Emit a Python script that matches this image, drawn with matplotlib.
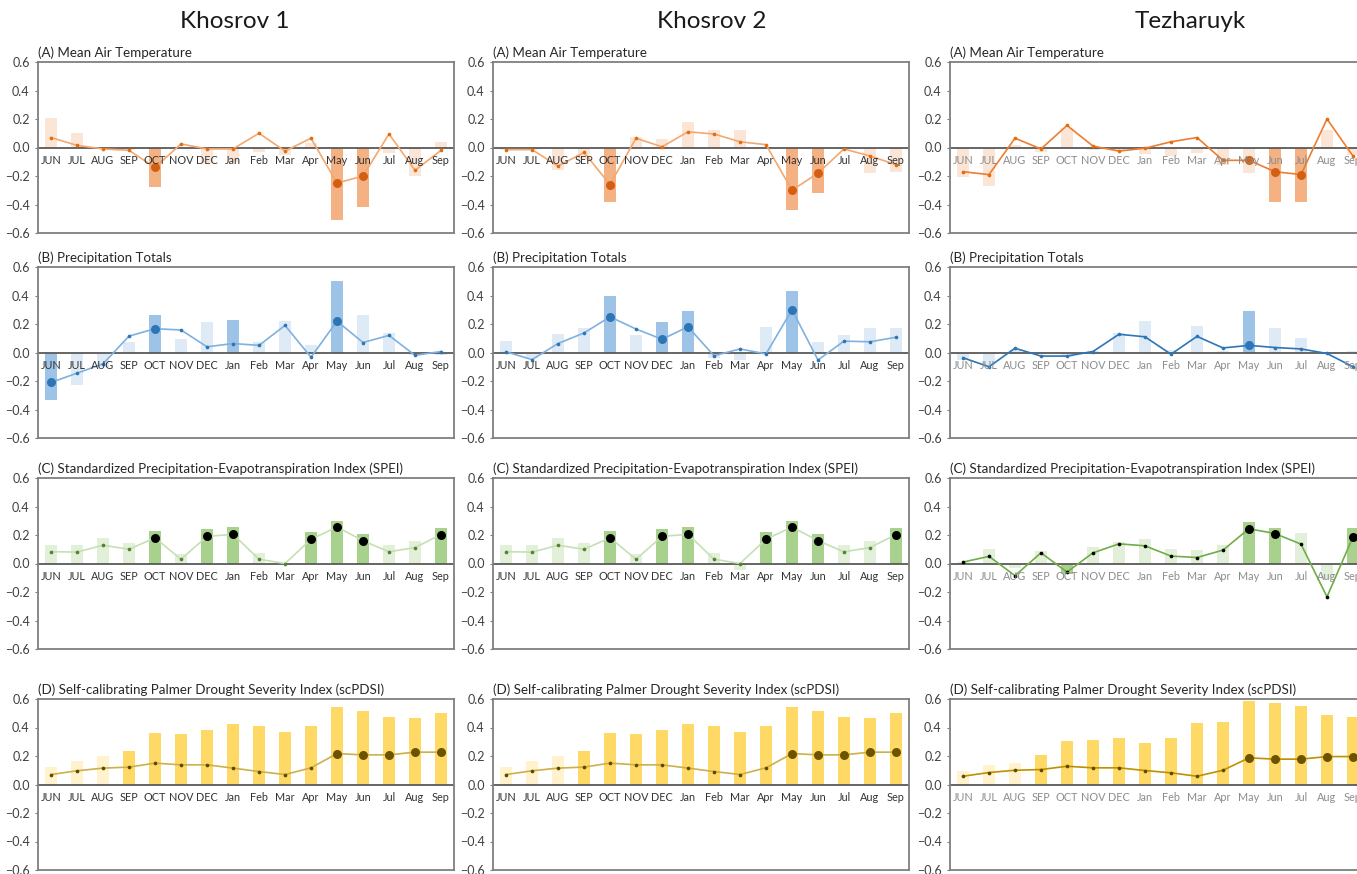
import matplotlib.pyplot as plt
import numpy as np

plt.rcParams['font.family'] = ['Lato', 'DejaVu Sans']

months = ['JUN', 'JUL', 'AUG', 'SEP', 'OCT', 'NOV', 'DEC', 'Jan', 'Feb',
          'Mar', 'Apr', 'May', 'Jun', 'Jul', 'Aug', 'Sep']
sites = ['Khosrov 1', 'Khosrov 2', 'Tezharuyk']
panel_titles = ['(A) Mean Air Temperature',
                '(B) Precipitation Totals',
                '(C) Standardized Precipitation-Evapotranspiration Index (SPEI)',
                '(D) Self-calibrating Palmer Drought Severity Index (scPDSI)']

# (A) mean air temperature: bar = one value per month, line = second value
temp_bar_k1 = [0.21, 0.10, -0.01, -0.02, -0.28, 0.00, -0.11, -0.10, -0.03, -0.05, 0.035, -0.51, -0.42, -0.04, -0.20, 0.04]
temp_line_k1 = [0.07, 0.015, -0.01, -0.02, -0.14, 0.025, -0.01, -0.01, 0.10, -0.025, 0.065, -0.25, -0.20, 0.095, -0.16, -0.02]
temp_bar_k2 = [-0.02, -0.02, -0.16, -0.09, -0.38, 0.075, 0.06, 0.18, 0.125, 0.12, 0.0, -0.44, -0.32, -0.01, -0.18, -0.17]
temp_line_k2 = [-0.015, -0.015, -0.13, -0.035, -0.26, 0.065, 0.005, 0.11, 0.095, 0.04, 0.02, -0.30, -0.18, -0.01, -0.06, -0.12]
temp_bar_tz = [-0.21, -0.27, 0.02, -0.035, 0.135, -0.02, -0.02, -0.045, -0.06, -0.04, -0.12, -0.18, -0.38, -0.38, 0.12, -0.05]
temp_line_tz = [-0.17, -0.19, 0.065, -0.01, 0.155, 0.01, -0.025, -0.005, 0.04, 0.07, -0.09, -0.09, -0.17, -0.19, 0.20, -0.06]

# (B) precipitation totals
prec_bar_k1 = [-0.33, -0.23, -0.10, 0.075, 0.26, 0.095, 0.215, 0.23, 0.075, 0.22, 0.05, 0.50, 0.26, 0.135, -0.02, -0.02]
prec_line_k1 = [-0.21, -0.145, -0.08, 0.115, 0.167, 0.158, 0.04, 0.063, 0.05, 0.19, -0.033, 0.22, 0.07, 0.12, -0.02, 0.007]
prec_bar_k2 = [0.08, -0.04, 0.13, 0.17, 0.40, 0.12, 0.215, 0.29, -0.04, -0.05, 0.18, 0.43, 0.077, 0.12, 0.175, 0.17]
prec_line_k2 = [0.005, -0.05, 0.063, 0.137, 0.25, 0.165, 0.093, 0.18, -0.023, 0.025, -0.01, 0.30, -0.053, 0.08, 0.075, 0.107]
prec_bar_tz = [-0.05, -0.085, 0.02, -0.01, -0.03, 0.01, 0.135, 0.22, 0.02, 0.185, 0.01, 0.29, 0.175, 0.10, 0.0, 0.01]
prec_line_tz = [-0.037, -0.10, 0.03, -0.025, -0.025, 0.007, 0.128, 0.11, -0.012, 0.113, 0.032, 0.05, 0.035, 0.025, -0.007, -0.10]

# (C) SPEI
spei_bar_k1 = [0.13, 0.128, 0.177, 0.145, 0.228, 0.07, 0.24, 0.256, 0.077, -0.01, 0.22, 0.30, 0.207, 0.133, 0.16, 0.252]
spei_line_k1 = [0.083, 0.08, 0.128, 0.10, 0.18, 0.03, 0.19, 0.205, 0.03, 0.0, 0.17, 0.256, 0.16, 0.082, 0.112, 0.203]
spei_bar_k2 = [0.13, 0.128, 0.177, 0.145, 0.228, 0.07, 0.24, 0.256, 0.077, -0.045, 0.22, 0.30, 0.207, 0.133, 0.16, 0.252]
spei_line_k2 = [0.083, 0.08, 0.128, 0.10, 0.18, 0.03, 0.19, 0.205, 0.03, 0.0, 0.17, 0.256, 0.16, 0.082, 0.112, 0.203]
spei_bar_tz = [0.01, 0.10, -0.03, 0.087, -0.077, 0.117, 0.15, 0.173, 0.103, 0.094, 0.127, 0.293, 0.246, 0.215, -0.11, 0.25]
spei_line_tz = [0.01, 0.05, -0.085, 0.075, -0.06, 0.075, 0.138, 0.124, 0.052, 0.042, 0.094, 0.244, 0.21, 0.136, -0.234, 0.187]

# (D) scPDSI
pdsi_bar_k1 = [0.12, 0.163, 0.203, 0.234, 0.36, 0.357, 0.383, 0.428, 0.41, 0.37, 0.413, 0.547, 0.516, 0.474, 0.465, 0.50]
pdsi_line_k1 = [0.07, 0.096, 0.115, 0.122, 0.15, 0.138, 0.138, 0.115, 0.091, 0.07, 0.117, 0.217, 0.208, 0.208, 0.227, 0.227]
pdsi_bar_k2 = list(pdsi_bar_k1)
pdsi_line_k2 = list(pdsi_line_k1)
pdsi_bar_tz = [0.093, 0.14, 0.152, 0.208, 0.306, 0.315, 0.327, 0.29, 0.327, 0.43, 0.44, 0.584, 0.57, 0.549, 0.486, 0.477]
pdsi_line_tz = [0.058, 0.084, 0.10, 0.105, 0.128, 0.117, 0.117, 0.098, 0.082, 0.058, 0.10, 0.187, 0.178, 0.178, 0.196, 0.196]

# months with a strong bar / a large marker
temp_dark = [[4, 11, 12], [4, 11, 12], [12, 13]]
temp_big = [[4, 11, 12], [4, 11, 12], [11, 12, 13]]
prec_dark = [[0, 4, 7, 11], [4, 6, 7, 11], [11]]
prec_big = [[0, 4, 11], [4, 6, 7, 11], [11]]
spei_dark = [[4, 6, 7, 10, 11, 12, 15], [4, 6, 7, 10, 11, 12, 15], [4, 11, 12, 15]]
spei_big = [[4, 6, 7, 10, 11, 12, 15], [4, 6, 7, 10, 11, 12, 15], [11, 12, 15]]
pdsi_dark = [list(range(3, 16))] * 3
pdsi_big = [list(range(11, 16))] * 3

rows = [
    ([temp_bar_k1, temp_bar_k2, temp_bar_tz], [temp_line_k1, temp_line_k2, temp_line_tz], temp_dark, temp_big),
    ([prec_bar_k1, prec_bar_k2, prec_bar_tz], [prec_line_k1, prec_line_k2, prec_line_tz], prec_dark, prec_big),
    ([spei_bar_k1, spei_bar_k2, spei_bar_tz], [spei_line_k1, spei_line_k2, spei_line_tz], spei_dark, spei_big),
    ([pdsi_bar_k1, pdsi_bar_k2, pdsi_bar_tz], [pdsi_line_k1, pdsi_line_k2, pdsi_line_tz], pdsi_dark, pdsi_big),
]

# light bar, strong bar, line per column, small marker per column, big marker
styles = [
    dict(light='#FBE5D6', dark='#F4B183', line=['#F4A86F', '#F4A86F', '#ED7D31'],
         small=['#E46C0A'] * 3, big='#D35F12'),
    dict(light='#DEEBF7', dark='#9DC3E6', line=['#7FB1E0', '#7FB1E0', '#2E75B6'],
         small=['#2E75B6'] * 3, big='#2E75B6'),
    dict(light='#E2F0D9', dark='#A9D18E', line=['#C5E0B4', '#C5E0B4', '#70AD47'],
         small=['#548235', '#548235', '#000000'], big='#000000'),
    dict(light='#FFF2CC', dark='#FFD966', line=['#CDB04A', '#CDB04A', '#BF9000'],
         small=['#5C4A00'] * 3, big='#6B5300'),
]

W, H = 1357, 874
col_left = [38, 493, 950]
title_x = [235, 712, 1190]
row_top = [62, 267, 478, 699]
ax_w, ax_h = 416, 171
yticks = [-0.6, -0.4, -0.2, 0.0, 0.2, 0.4, 0.6]
x = np.arange(len(months))

fig = plt.figure(figsize=(W / 100, H / 100), dpi=100)

for r, (bars, lines, darks, bigs) in enumerate(rows):
    st = styles[r]
    for c in range(3):
        ax = fig.add_axes([col_left[c] / W, 1 - (row_top[r] + ax_h) / H, ax_w / W, ax_h / H])
        bar_vals = bars[c]
        line_vals = lines[c]
        colors = [st['dark'] if i in darks[c] else st['light'] for i in x]
        ax.bar(x, bar_vals, width=0.48, color=colors, zorder=1)
        ax.axhline(0, color='#595959', lw=1.3, zorder=2)
        ax.plot(x, line_vals, color=st['line'][c], lw=1.2, zorder=3)
        small = [i for i in x if i not in bigs[c]]
        ax.scatter(small, [line_vals[i] for i in small], s=7, color=st['small'][c], zorder=4, linewidths=0)
        ax.scatter(bigs[c], [line_vals[i] for i in bigs[c]], s=42, color=st['big'], zorder=5, linewidths=0)

        lab_col = '#8C8C8C' if c == 2 else '#333333'
        for i, m in enumerate(months):
            ax.annotate(m, (i, 0), xytext=(0, -13), textcoords='offset pixels',
                        ha='center', va='center', fontsize=7.8, color=lab_col, zorder=6)

        ax.set_xlim(-0.5, len(months) - 0.5)
        ax.set_ylim(-0.6, 0.6)
        ax.set_xticks([])
        ax.set_yticks(yticks)
        ax.set_yticklabels([f'{v:.1f}'.replace('-', '\u2212') for v in yticks])
        ax.tick_params(axis='y', length=2, width=0.8, color='#7F7F7F', pad=4,
                       labelsize=9, labelcolor='#404040')
        for sp in ax.spines.values():
            sp.set_color('#7F7F7F')
            sp.set_linewidth(1.3)
        ax.text(0, 1.02, panel_titles[r], transform=ax.transAxes, ha='left', va='bottom',
                fontsize=9.6, color='#262626')

for c, name in enumerate(sites):
    fig.text(title_x[c] / W, 1 - 22 / H, name, ha='center', va='center',
             fontsize=17.5, color='#1A1A1A')

fig.savefig('out.png', dpi=100)
